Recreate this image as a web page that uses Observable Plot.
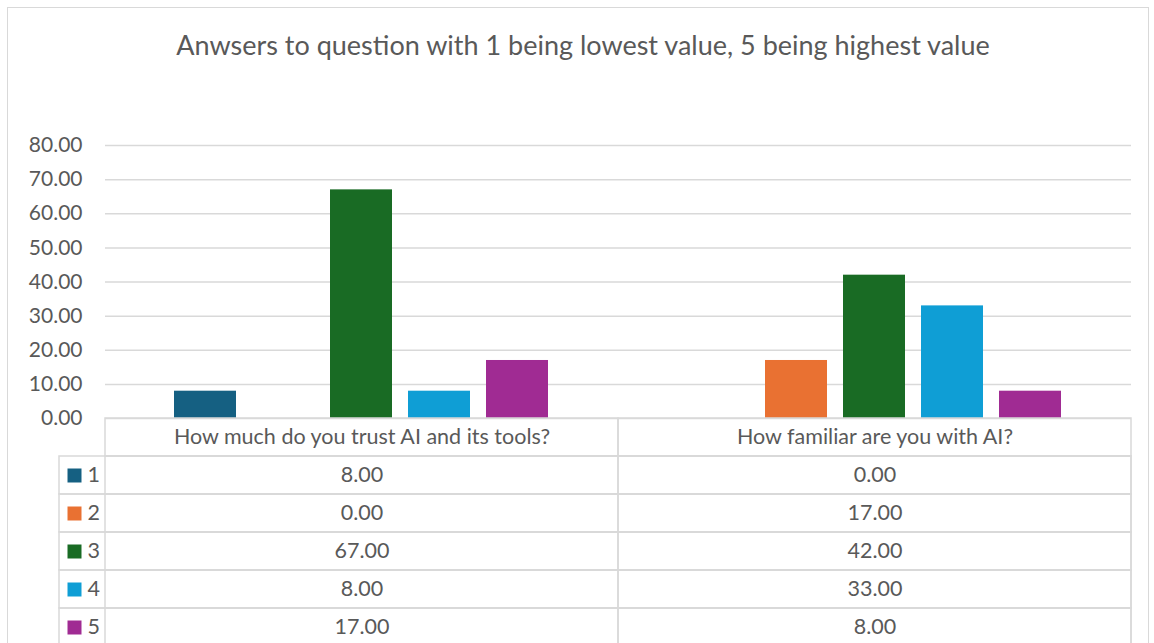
<!DOCTYPE html>
<html>
<head>
<meta charset="utf-8">
<script src="https://cdn.jsdelivr.net/npm/d3@7"></script>
<script src="https://cdn.jsdelivr.net/npm/@observablehq/plot@0.6"></script>
<style>
  html, body { margin: 0; padding: 0; background: #fff; overflow: hidden; }
  #wrap { position: relative; width: 1154px; height: 643px; font-family: Lato, "Open Sans", sans-serif; color: #595959; }
  #frame { position: absolute; left: 7px; top: 7px; width: 1142px; height: 660px; border: 1.5px solid #d9d9d9; box-sizing: border-box; }
  #title { position: absolute; left: 0; top: 28px; width: 1166px; text-align: center; font-size: 27px; color: #595959; }
  #chart { position: absolute; left: 0; top: 100px; }
  #table { position: absolute; left: 0; top: 418px; }
  svg { overflow: visible; }
</style>
</head>
<body>
<div id="wrap">
  <div id="frame"></div>
  <div id="title">Anwsers to question with 1 being lowest value, 5 being highest value</div>
  <div id="chart"></div>
  <div id="table"></div>
</div>
<script>
const titleText = "Anwsers to question with 1 being lowest value, 5 being highest value";
const categories = ["How much do you trust AI and its tools?", "How familiar are you with AI?"];
const seriesNames = ["1", "2", "3", "4", "5"];
const seriesColors = ["#156082", "#e97132", "#196b24", "#0f9ed5", "#a02b93"];
const valuesTrust = [8, 0, 67, 8, 17];
const valuesFamiliar = [0, 17, 42, 33, 8];
const yTicks = [0, 10, 20, 30, 40, 50, 60, 70, 80];

const data = [];
seriesNames.forEach((s, i) => {
  data.push({category: categories[0], series: s, value: valuesTrust[i]});
  data.push({category: categories[1], series: s, value: valuesFamiliar[i]});
});

const font = "Lato, 'Open Sans', sans-serif";

const chart = Plot.plot({
  width: 1154,
  height: 330,
  marginTop: 45,
  marginBottom: 12,
  marginLeft: 105,
  marginRight: 23,
  style: {fontFamily: font, fontSize: "21px", color: "#595959", background: "transparent", overflow: "visible"},
  facet: {data, x: "category"},
  fx: {domain: categories, padding: 0, axis: null},
  x: {domain: seriesNames, paddingInner: 0.2, paddingOuter: 0.86, axis: null},
  y: {domain: [0, 80], ticks: yTicks, tickFormat: d => d.toFixed(2), tickSize: 0, tickPadding: 23, label: null},
  color: {domain: seriesNames, range: seriesColors},
  marks: [
    Plot.ruleY(yTicks, {stroke: "#d9d9d9", strokeWidth: 1.5}),
    Plot.barY(data, {x: "series", y: "value", fill: "series"})
  ]
});
document.getElementById("chart").appendChild(chart);

const rows = [""].concat(seriesNames);
const cellData = [];
categories.forEach(c => rows.forEach(r => cellData.push({category: c, row: r})));

const table = Plot.plot({
  width: 1154,
  height: 228,
  marginTop: 0,
  marginBottom: 0,
  marginLeft: 105,
  marginRight: 23,
  style: {fontFamily: font, fontSize: "21.5px", color: "#595959", background: "transparent", overflow: "visible"},
  x: {domain: categories, padding: 0, axis: null},
  y: {domain: rows, padding: 0, axis: null},
  color: {domain: seriesNames, range: seriesColors},
  marks: [
    Plot.rect(seriesNames, {y: d => d, insetLeft: -46, fill: "none", stroke: "#d9d9d9", strokeWidth: 1.5}),
    Plot.cell(cellData, {x: "category", y: "row", fill: "none", stroke: "#d9d9d9", strokeWidth: 1.5}),
    Plot.text(categories, {x: d => d, y: () => "", text: d => d, fill: "#595959"}),
    Plot.text(data, {x: "category", y: "series", text: d => d.value.toFixed(2), fill: "#595959"}),
    Plot.dot(seriesNames, {y: d => d, frameAnchor: "left", dx: -31, symbol: "square", r: 7.9, fill: d => d, stroke: null}),
    Plot.text(seriesNames, {y: d => d, frameAnchor: "left", dx: -18, text: d => d, textAnchor: "start", fill: "#595959"})
  ]
});
document.getElementById("table").appendChild(table);
</script>
</body>
</html>
